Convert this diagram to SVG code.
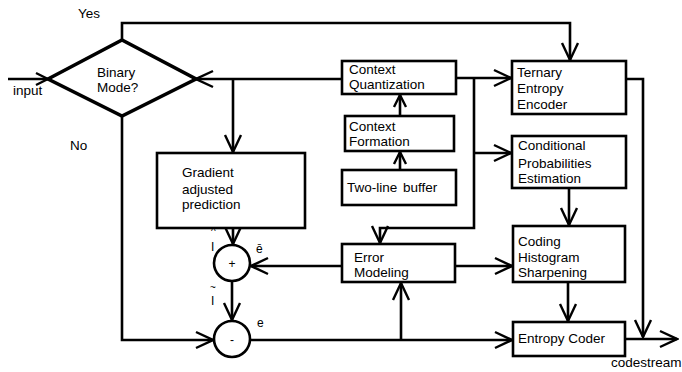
<svg xmlns="http://www.w3.org/2000/svg" width="682" height="372" viewBox="0 0 682 372">
<style>
  .box{fill:#fff;stroke:#000;stroke-width:2.6}
  .t{font-family:"Liberation Sans",Arial,sans-serif;font-size:13.5px;fill:#000}
  .s{font-family:"Liberation Sans",Arial,sans-serif;font-size:12px;fill:#000}
  .x{font-family:"Liberation Sans",Arial,sans-serif;font-size:10px;fill:#000}
  .c{fill:none;stroke:#000;stroke-width:2.6}
</style>
<defs>
  <marker id="ah" viewBox="-20 -10 22 20" markerWidth="22" markerHeight="20" refX="0" refY="0" markerUnits="userSpaceOnUse" orient="auto">
    <path d="M-17,-8 L0,0 L-17,8" fill="none" stroke="#000" stroke-width="2.4"/>
  </marker>
  <marker id="ahs" viewBox="-20 -10 22 20" markerWidth="22" markerHeight="20" refX="0" refY="0" markerUnits="userSpaceOnUse" orient="auto">
    <path d="M-12,-6 L0,0 L-12,6" fill="none" stroke="#000" stroke-width="2.4"/>
  </marker>
</defs>
<rect width="682" height="372" fill="#fff"/>
<g id="connectors" class="c">
  <path d="M8,79 H48" marker-end="url(#ahs)"/>
  <path d="M122,40 V23 H570 V60" marker-end="url(#ah)"/>
  <path d="M342,79 H196" marker-end="url(#ah)"/>
  <path d="M233,79 V152" marker-end="url(#ah)"/>
  <path d="M400,116 V95" marker-end="url(#ahs)"/>
  <path d="M400,170 V152" marker-end="url(#ahs)"/>
  <path d="M456,78 H511" marker-end="url(#ah)"/>
  <path d="M474,78 V228 H380 V243" marker-end="url(#ah)"/>
  <path d="M474,153 H511" marker-end="url(#ah)"/>
  <path d="M569,188 V225" marker-end="url(#ah)"/>
  <path d="M568,282 V321" marker-end="url(#ah)"/>
  <path d="M626,79 H643 V337" marker-end="url(#ah)"/>
  <path d="M625,339 H677" marker-end="url(#ah)"/>
  <path d="M455,266 H512" marker-end="url(#ah)"/>
  <path d="M342,266 H251" marker-end="url(#ah)"/>
  <path d="M233,228 V244" marker-end="url(#ah)"/>
  <path d="M232,282 V320" marker-end="url(#ah)"/>
  <path d="M122,116 V340 H213" marker-end="url(#ah)"/>
  <path d="M251,340 H512" marker-end="url(#ah)"/>
  <path d="M401,340 V283" marker-end="url(#ah)"/>
</g>
<g id="binary-mode">
  <polygon points="48,79 122,40 196,79 122,116" fill="#fff" stroke="#000" stroke-width="3.6"/>
  <text class="t" x="97" y="77">Binary</text>
  <text class="t" x="97" y="92">Mode?</text>
</g>
<g id="labels">
  <text class="t" x="78" y="18">Yes</text>
  <text class="t" x="13" y="95">input</text>
  <text class="t" x="70" y="150">No</text>
  <text class="t" x="611" y="367">codestream</text>
</g>
<g id="context-quantization">
  <rect class="box" x="342" y="61" width="114" height="33"/>
  <text class="t" x="349" y="74">Context</text>
  <text class="t" x="349" y="89">Quantization</text>
</g>
<g id="context-formation">
  <rect class="box" x="345" y="116" width="109" height="35"/>
  <text class="t" x="349" y="131">Context</text>
  <text class="t" x="349" y="146">Formation</text>
</g>
<g id="two-line-buffer">
  <rect class="box" x="342" y="170" width="114" height="35"/>
  <text class="t" x="347" y="192" word-spacing="2">Two-line buffer</text>
</g>
<g id="gradient-prediction">
  <rect class="box" x="157" y="153" width="148" height="75"/>
  <text class="t" x="182" y="177">Gradient</text>
  <text class="t" x="182" y="194">adjusted</text>
  <text class="t" x="182" y="209">prediction</text>
</g>
<g id="ternary-entropy-encoder">
  <rect class="box" x="512" y="61" width="114" height="53"/>
  <text class="t" x="517" y="77">Ternary</text>
  <text class="t" x="517" y="93">Entropy</text>
  <text class="t" x="517" y="109">Encoder</text>
</g>
<g id="conditional-probabilities">
  <rect class="box" x="512" y="136" width="114" height="52"/>
  <text class="t" x="518" y="150">Conditional</text>
  <text class="t" x="518" y="168">Probabilities</text>
  <text class="t" x="518" y="183">Estimation</text>
</g>
<g id="coding-histogram">
  <rect class="box" x="513" y="226" width="112" height="56"/>
  <text class="t" x="518" y="246">Coding</text>
  <text class="t" x="518" y="262">Histogram</text>
  <text class="t" x="518" y="277">Sharpening</text>
</g>
<g id="entropy-coder">
  <rect class="box" x="513" y="322" width="112" height="34"/>
  <text class="t" x="518" y="343">Entropy Coder</text>
</g>
<g id="error-modeling">
  <rect class="box" x="342" y="244" width="113" height="38"/>
  <text class="t" x="354" y="262">Error</text>
  <text class="t" x="354" y="277">Modeling</text>
</g>
<g id="adder">
  <circle cx="232" cy="263" r="18" fill="#fff" stroke="#000" stroke-width="2.6"/>
  <text class="s" x="232" y="268" text-anchor="middle">+</text>
</g>
<g id="subtractor">
  <circle cx="232" cy="339" r="18" fill="#fff" stroke="#000" stroke-width="2.6"/>
  <text class="s" x="232" y="344" text-anchor="middle">-</text>
</g>
<g id="signal-labels">
  <text class="x" x="211" y="235">^</text>
  <text class="s" x="211" y="251">I</text>
  <text class="s" x="256" y="253">ē</text>
  <text class="x" x="210" y="291">~</text>
  <text class="s" x="211" y="305">I</text>
  <text class="s" x="257" y="327">e</text>
</g>
</svg>
